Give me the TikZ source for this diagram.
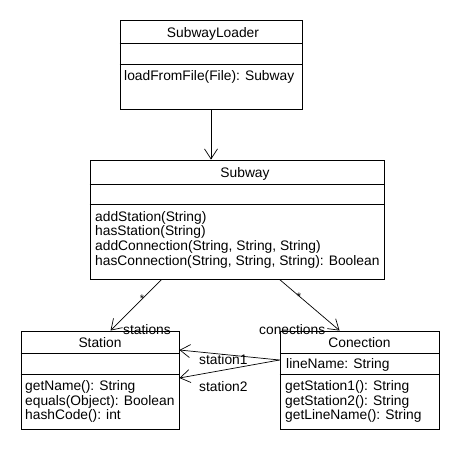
\documentclass[tikz,border=0pt]{standalone}
\usepackage{fontspec}
\setmainfont{Liberation Sans}
\usetikzlibrary{arrows.meta,calc}
\begin{document}
\begin{tikzpicture}[x=1pt,y=-1pt,
  box/.style={draw,line width=0.9pt,inner sep=0pt,minimum width=#1},
  txt/.style={anchor=base west,inner sep=0pt,font=\fontsize{13.8}{15}\selectfont},
  ttl/.style={anchor=base,inner sep=0pt,font=\fontsize{13.8}{15}\selectfont},
  lbl/.style={anchor=base west,inner sep=0pt,font=\fontsize{13.8}{15}\selectfont},
  mult/.style={inner sep=0pt,font=\fontsize{11}{11}\selectfont},
  sep/.style={line width=0.9pt},
  assoc/.style={line width=0.7pt,-{Straight Barb[length=10pt,width=13pt,line width=0.7pt]}}]
\useasboundingbox[fill=white] (0,0) rectangle (460,450);
% boxes
\node[box=182pt,minimum height=89pt] (sl) at (211,64.5) {};
\node[box=294pt,minimum height=119pt] (sub) at (237,219.5) {};
\node[box=158pt,minimum height=98pt] (st) at (100,380) {};
\node[box=159pt,minimum height=98pt] (con) at (359.5,380) {};
% compartments
\draw[sep] (sl.west |- 0,43) -- (sl.east |- 0,43);
\draw[sep] (sl.west |- 0,64) -- (sl.east |- 0,64);
\draw[sep] (sub.west |- 0,184) -- (sub.east |- 0,184);
\draw[sep] (sub.west |- 0,204) -- (sub.east |- 0,204);
\draw[sep] (st.west |- 0,353) -- (st.east |- 0,353);
\draw[sep] (st.west |- 0,374) -- (st.east |- 0,374);
\draw[sep] (con.west |- 0,353) -- (con.east |- 0,353);
\draw[sep] (con.west |- 0,374) -- (con.east |- 0,374);
% texts
\node[ttl] (slt) at (213,37) {SubwayLoader};
\node[txt] (slm) at (124,80.5) {loadFromFile(File): Subway};
\node[ttl] (subt) at (245,177) {Subway};
\node[txt] (subm1) at (95,221) {addStation(String)};
\node[txt] (subm2) at (95,235.7) {hasStation(String)};
\node[txt] (subm3) at (95,250.4) {addConnection(String, String, String)};
\node[txt] (subm4) at (95,265) {hasConnection(String, String, String): Boolean};
\node[ttl] (stt) at (100,347) {Station};
\node[txt] (stm1) at (25,390.5) {getName(): String};
\node[txt] (stm2) at (25,405) {equals(Object): Boolean};
\node[txt] (stm3) at (25,419.5) {hashCode(): int};
\node[ttl] (cont) at (359.5,347) {Conection};
\node[txt] (cona) at (286,368.5) {lineName: String};
\node[txt] (conm1) at (285,390.5) {getStation1(): String};
\node[txt] (conm2) at (285,405) {getStation2(): String};
\node[txt] (conm3) at (285,419.5) {getLineName(): String};
% connectors
\draw[assoc] (sl.south) -- (sl.south |- sub.north);
\draw[assoc] ([xshift=72pt]sub.south west) -- ([xshift=90pt]st.north west);
\draw[assoc] ([xshift=190pt]sub.south west) -- ([xshift=60pt]con.north west);
\draw[assoc] ([yshift=20pt]con.west) -- ([yshift=30pt]st.east);
\draw[assoc] ([yshift=20pt]con.west) -- ([yshift=2pt]st.east);
% labels
\node[mult] (m1) at (142,299) {*};
\node[mult] (m2) at (299,297) {*};
\node[lbl] (l1) at (123,334) {stations};
\node[lbl] (l2) at (259,334) {conections};
\node[lbl] (l3) at (199,364) {station1};
\node[lbl] (l4) at (199,391) {station2};
\end{tikzpicture}
\end{document}
